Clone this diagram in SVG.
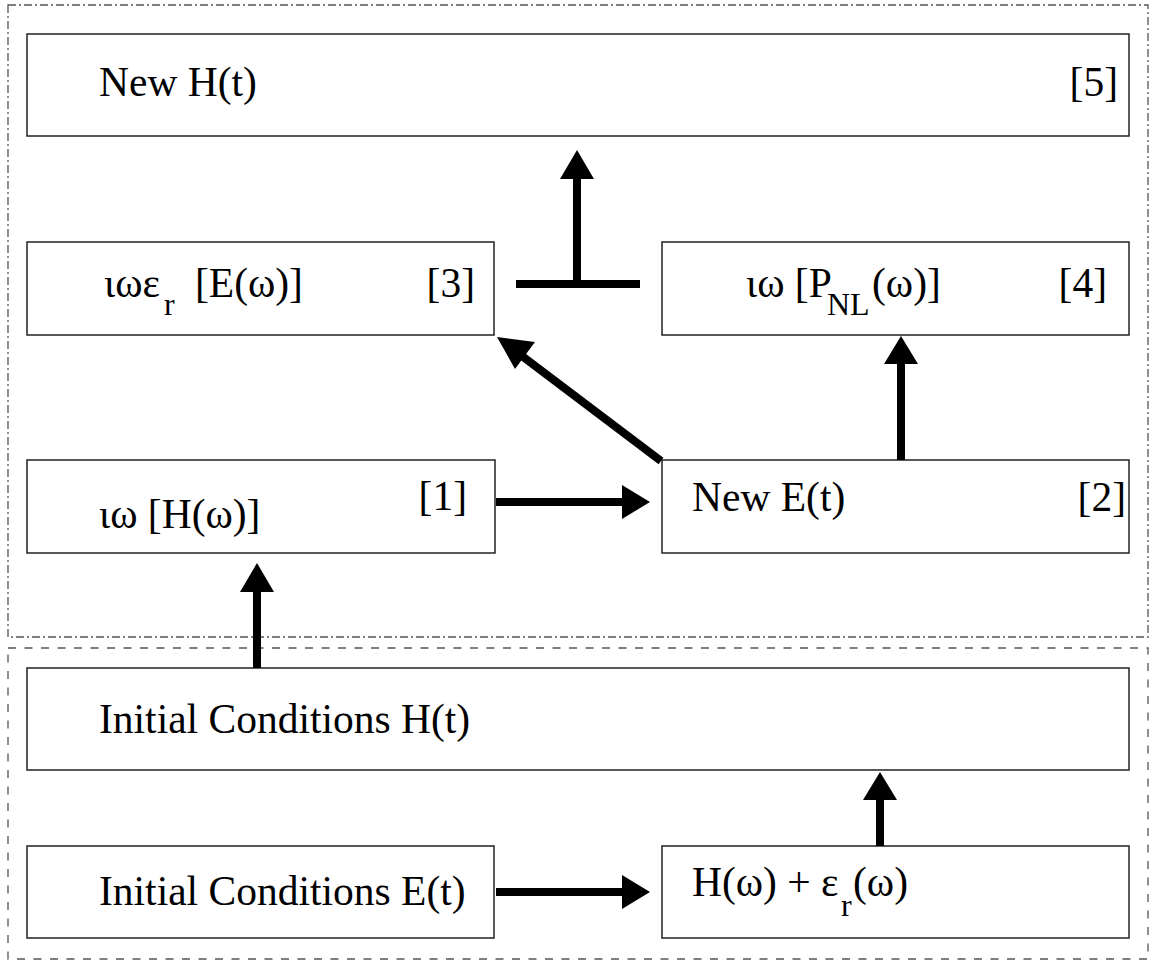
<svg xmlns="http://www.w3.org/2000/svg" width="1150" height="962" viewBox="0 0 1150 962">
<style>
.box{fill:#fff;stroke:#222;stroke-width:1.5}
.t{font-family:"Liberation Serif","Times New Roman",serif;font-size:41.5px;fill:#000}
.s{font-family:"Liberation Serif","Times New Roman",serif;font-size:32px;fill:#000}
.ln{stroke:#000;stroke-width:8;fill:none}
.hd{fill:#000}
</style>
<rect width="1150" height="962" fill="#fff"/>
<g id="regions">
<rect x="8" y="5" width="1140" height="632" fill="none" stroke="#555" stroke-width="1.3" stroke-dasharray="8 3 2 3"/>
<rect x="8" y="648" width="1140" height="311" fill="none" stroke="#555" stroke-width="1.3" stroke-dasharray="8 8.5"/>
</g>
<g id="node5">
<rect class="box" x="27" y="34" width="1102" height="102"/>
<text class="t" x="99" y="96">New H(t)</text>
<text class="t" x="1118" y="96" text-anchor="end">[5]</text>
</g>
<g id="node3">
<rect class="box" x="27" y="242" width="467" height="93"/>
<text class="t" x="104" y="297">ιωε</text>
<text class="s" x="164" y="315">r</text>
<text class="t" x="195" y="297">[E(ω)]</text>
<text class="t" x="475" y="297" text-anchor="end">[3]</text>
</g>
<g id="node4">
<rect class="box" x="662" y="242" width="467" height="93"/>
<text class="t" x="746" y="297">ιω [P</text>
<text class="s" x="827" y="315">NL</text>
<text class="t" x="872" y="297">(ω)]</text>
<text class="t" x="1107" y="297" text-anchor="end">[4]</text>
</g>
<g id="node1">
<rect class="box" x="27" y="460" width="468" height="93"/>
<text class="t" x="99" y="528">ιω [H(ω)]</text>
<text class="t" x="467" y="510" text-anchor="end">[1]</text>
</g>
<g id="node2">
<rect class="box" x="662" y="460" width="467" height="93"/>
<text class="t" x="692" y="511">New E(t)</text>
<text class="t" x="1126" y="511" text-anchor="end">[2]</text>
</g>
<g id="nodeInitH">
<rect class="box" x="27" y="668" width="1102" height="102"/>
<text class="t" x="99" y="733">Initial Conditions H(t)</text>
</g>
<g id="nodeInitE">
<rect class="box" x="27" y="846" width="467" height="92"/>
<text class="t" x="99" y="905">Initial Conditions E(t)</text>
</g>
<g id="nodeHeps">
<rect class="box" x="662" y="846" width="467" height="92"/>
<text class="t" x="692" y="896">H(ω) + ε</text>
<text class="s" x="841" y="916">r</text>
<text class="t" x="853" y="896">(ω)</text>
</g>
<g id="connectors">
<line class="ln" x1="496" y1="502" x2="624" y2="502"/>
<polygon class="hd" points="650,502 622,485 622,519"/>
<line class="ln" x1="496" y1="892" x2="624" y2="892"/>
<polygon class="hd" points="650,892 622,875 622,909"/>
<line class="ln" x1="257" y1="668" x2="257" y2="590"/>
<polygon class="hd" points="257,563 240,592 274,592"/>
<line class="ln" x1="880" y1="846" x2="880" y2="798"/>
<polygon class="hd" points="880,772 863,800 897,800"/>
<line class="ln" x1="901" y1="460" x2="901" y2="362"/>
<polygon class="hd" points="901,336 884,364 918,364"/>
<line class="ln" x1="516" y1="284" x2="640" y2="284"/>
<line class="ln" x1="577" y1="284" x2="577" y2="177"/>
<polygon class="hd" points="577,150 560,179 594,179"/>
<line class="ln" x1="661" y1="461" x2="518" y2="353"/>
<polygon class="hd" points="497,337 535,342 515,369"/>
</g>
</svg>
